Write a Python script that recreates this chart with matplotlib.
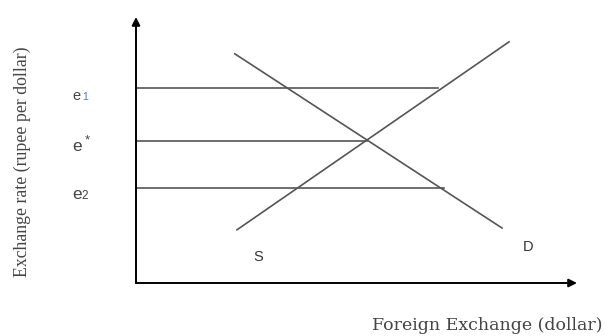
import matplotlib.pyplot as plt

# supply and demand lines (foreign exchange, exchange rate)
supply_x = [2.29, 8.46]
supply_y = [1.20, 5.44]
demand_x = [2.24, 8.30]
demand_y = [5.17, 1.24]

# horizontal price levels and where they stop
rate_labels = ['e1', 'e*', 'e2']
rate_values = [4.40, 3.20, 2.14]
rate_ends = [6.85, 5.24, 6.98]

line_col = '#555555'
text_col = '#444444'

fig = plt.figure(figsize=(6.05, 3.36), dpi=100)
ax = fig.add_axes([136 / 605, 53 / 336, 441 / 605, 266 / 336])
ax.set_xlim(0, 10)
ax.set_ylim(0, 6)
ax.axis('off')

# axes with arrow heads
ax.annotate('', xy=(0, 6.0), xytext=(0, 0), annotation_clip=False,
            arrowprops=dict(arrowstyle='-|>', color='black', lw=1.4, mutation_scale=12,
                            shrinkA=0, shrinkB=0))
ax.annotate('', xy=(10, 0), xytext=(0, 0), annotation_clip=False,
            arrowprops=dict(arrowstyle='-|>', color='black', lw=1.4, mutation_scale=12,
                            shrinkA=0, shrinkB=0))

ax.plot(supply_x, supply_y, color=line_col, lw=1.2)
ax.plot(demand_x, demand_y, color=line_col, lw=1.2)

# level lines and their e labels (letter + small suffix on the same baseline)
for lab, val, end in zip(rate_labels, rate_values, rate_ends):
    ax.plot([0, end], [val, val], color=line_col, lw=1.2)
    base = val - 0.27 if lab == 'e1' else val - 0.22 if lab == 'e*' else val - 0.25
    ax.text(-1.45, base, lab[0], ha='left', va='baseline',
            fontsize=10.5 if lab == 'e1' else 12.5, family='Liberation Sans', color=text_col)
    if lab[1] == '*':
        ax.text(-1.17, base + 0.17, '*', ha='left', va='baseline', fontsize=9.5,
                family='Liberation Sans', color=text_col)
    else:
        ax.text(-1.23, base, lab[1], ha='left', va='baseline',
                fontsize=7.5 if lab == 'e1' else 8.5, family='Liberation Sans',
                color='#5577aa' if lab == 'e1' else text_col)

ax.text(2.77, 0.58, 'S', ha='center', va='center', fontsize=10.5,
        family='Liberation Sans', color='#333333')
ax.text(8.90, 0.82, 'D', ha='center', va='center', fontsize=10.5,
        family='Liberation Sans', color='#333333')

fig.text(22 / 605, 1 - 162 / 336, 'Exchange rate (rupee per dollar)', rotation=90,
         ha='center', va='center', fontsize=12.8, family='Liberation Serif', color=text_col)
fig.text(603 / 605, 1 - 326 / 336, 'Foreign Exchange (dollar)', ha='right', va='center',
         fontsize=12.5, family='DejaVu Serif', color=text_col)

fig.savefig('out.png', dpi=100)
